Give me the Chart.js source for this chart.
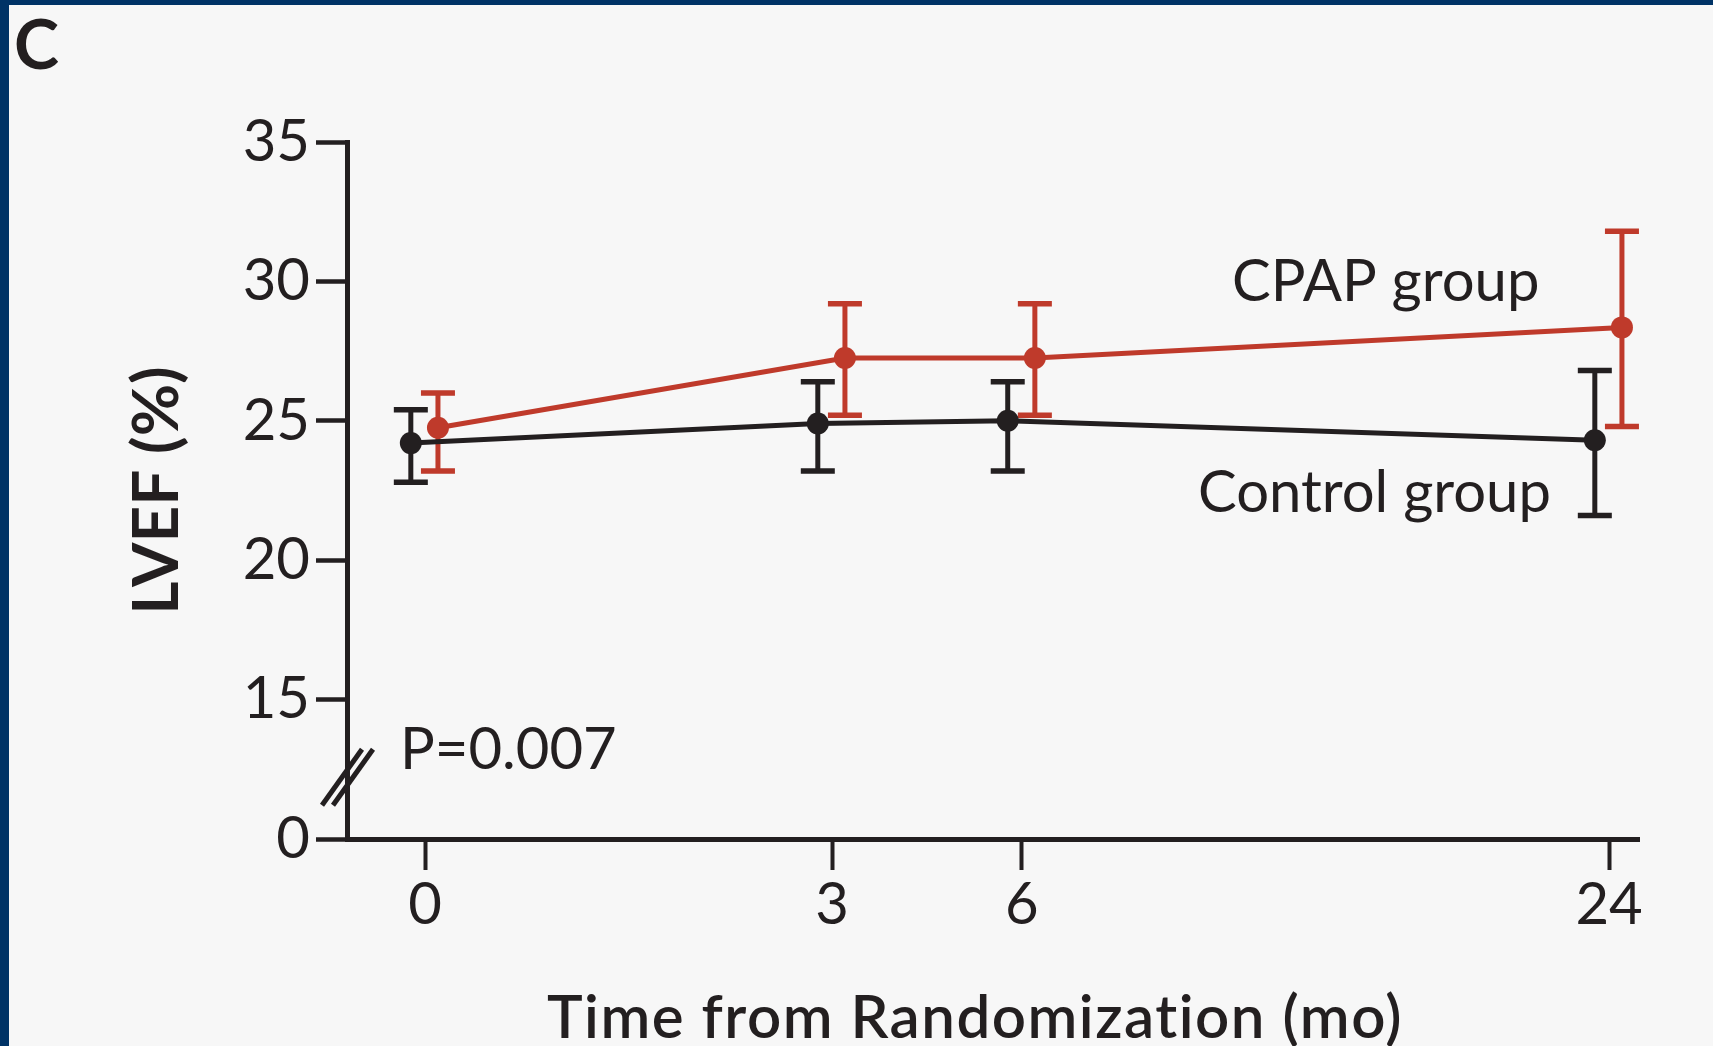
<!DOCTYPE html>
<html>
<head>
<meta charset="utf-8">
<title>LVEF after randomization</title>
<script src="https://cdn.jsdelivr.net/npm/chart.js@4.4.1/dist/chart.umd.min.js"></script>
<style>
  html, body { margin: 0; padding: 0; background: #f7f7f7; }
  #chart-container { width: 1713px; height: 1046px; }
</style>
</head>
<body>
<div id="chart-container"><canvas id="chart" width="1713" height="1046"></canvas></div>
<script>
// months after randomization (x tick labels)
const months = ['0', '3', '6', '24'];

// LVEF (%): mean and the two ends of each error bar
const controlMean = [24.2, 24.9, 25.0, 24.3];
const controlLow = [22.8, 23.2, 23.2, 21.6];
const controlHigh = [25.4, 26.4, 26.4, 26.8];

const cpapMean = [24.75, 27.25, 27.25, 28.35];
const cpapLow = [23.2, 25.2, 25.2, 24.8];
const cpapHigh = [26.0, 29.2, 29.2, 31.8];

// y axis is broken below 15: the bottom tick stands for 0
const yTickValues = [10, 15, 20, 25, 30, 35];
const yTickLabels = ['0', '15', '20', '25', '30', '35'];

// the time axis is not to scale, so each month gets a slot on a 0-100 axis
const monthSlots = [6.04, 37.54, 52.24, 97.68];
const controlShift = -1.1;
const cpapShift = 1.0;

const INK = '#231f20';
const RED = '#bf3a2b';
const FONT = 'Lato, "Open Sans", sans-serif';

Chart.defaults.font.family = FONT;
Chart.defaults.font.size = 58;
Chart.defaults.color = INK;

function points(means, shift) {
  return means.map((v, i) => ({ x: monthSlots[i] + shift, y: v }));
}

// vertical bars with caps, drawn under the lines
const errorBars = {
  id: 'errorBars',
  beforeDatasetsDraw(chart) {
    const { ctx, scales: { x, y } } = chart;
    chart.data.datasets.forEach(ds => {
      ctx.save();
      ctx.strokeStyle = ds.borderColor;
      ds.data.forEach((pt, j) => {
        const px = x.getPixelForValue(pt.x);
        const top = y.getPixelForValue(ds.errHigh[j]);
        const bot = y.getPixelForValue(ds.errLow[j]);
        ctx.lineWidth = 5;
        ctx.beginPath();
        ctx.moveTo(px, top);
        ctx.lineTo(px, bot);
        ctx.stroke();
        ctx.lineWidth = 5.5;
        ctx.beginPath();
        ctx.moveTo(px - 17, top); ctx.lineTo(px + 17, top);
        ctx.moveTo(px - 17, bot); ctx.lineTo(px + 17, bot);
        ctx.stroke();
      });
      ctx.restore();
    });
  }
};

// frame, background, axis break and the free text
const decor = {
  id: 'decor',
  beforeDraw(chart) {
    const { ctx, width, height } = chart;
    ctx.save();
    ctx.fillStyle = '#f7f7f7';
    ctx.fillRect(0, 0, width, height);
    ctx.fillStyle = '#003366';
    ctx.fillRect(0, 0, width, 5);
    ctx.fillRect(0, 0, 9, height);
    ctx.restore();
  },
  afterDraw(chart) {
    const { ctx, chartArea, scales: { y } } = chart;
    ctx.save();
    // axis break marks
    const bx = chartArea.left;
    const by = y.getPixelForValue(12.25);
    ctx.strokeStyle = INK;
    ctx.lineWidth = 5;
    [-5, 6].forEach(dx => {
      ctx.beginPath();
      ctx.moveTo(bx + dx - 20, by + 29);
      ctx.lineTo(bx + dx + 20, by - 27);
      ctx.stroke();
    });

    ctx.fillStyle = INK;
    ctx.textBaseline = 'alphabetic';
    ctx.textAlign = 'left';
    ctx.font = 'bold 68px ' + FONT;
    ctx.fillText('C', 14, 69);

    ctx.font = '58px ' + FONT;
    ctx.fillText('P=0.007', 400, 769);
    ctx.fillText('CPAP group', 1232, 301);
    ctx.fillText('Control group', 1198, 512);

    ctx.textAlign = 'center';
    ctx.font = '600 60px ' + FONT;
    ctx.letterSpacing = '1.5px';
    ctx.fillText('Time from Randomization (mo)', 975, 1038);
    ctx.restore();
  }
};

new Chart(document.getElementById('chart').getContext('2d'), {
  type: 'line',
  data: {
    datasets: [
      {
        label: 'Control group',
        data: points(controlMean, controlShift),
        errLow: controlLow,
        errHigh: controlHigh,
        borderColor: INK,
        backgroundColor: INK,
        borderWidth: 5,
        pointRadius: 11,
        pointHoverRadius: 11,
        pointBorderWidth: 0,
        tension: 0
      },
      {
        label: 'CPAP group',
        data: points(cpapMean, cpapShift),
        errLow: cpapLow,
        errHigh: cpapHigh,
        borderColor: RED,
        backgroundColor: RED,
        borderWidth: 5,
        pointRadius: 11,
        pointHoverRadius: 11,
        pointBorderWidth: 0,
        tension: 0
      }
    ]
  },
  options: {
    responsive: false,
    animation: false,
    devicePixelRatio: 1,
    layout: { padding: { left: 0, right: 74, top: 142, bottom: 0 } },
    plugins: {
      legend: { display: false },
      tooltip: { enabled: false }
    },
    scales: {
      x: {
        type: 'linear',
        min: 0,
        max: 100,
        afterBuildTicks: s => { s.ticks = monthSlots.map(v => ({ value: v })); },
        afterFit: s => { s.height = 207; s.paddingLeft = 0; s.paddingRight = 0; },
        ticks: {
          callback: (v, i) => months[i],
          autoSkip: false,
          maxRotation: 0,
          padding: 0,
          color: INK
        },
        grid: { drawOnChartArea: false, tickLength: 31, tickWidth: 4, tickColor: INK },
        border: { display: true, color: INK, width: 5 }
      },
      y: {
        type: 'linear',
        min: 10,
        max: 35,
        afterBuildTicks: s => { s.ticks = yTickValues.map(v => ({ value: v })); },
        afterFit: s => { s.width = 347; s.paddingTop = 0; s.paddingBottom = 0; },
        ticks: {
          callback: (v, i) => yTickLabels[i],
          padding: 6,
          color: INK
        },
        grid: { drawOnChartArea: false, tickLength: 31, tickWidth: 4.5, tickColor: INK },
        border: { display: true, color: INK, width: 5 },
        title: {
          display: true,
          text: 'LVEF (%)',
          color: INK,
          font: { size: 64, weight: 'bold' },
          padding: { top: 119, bottom: 0 }
        }
      }
    }
  },
  plugins: [errorBars, decor]
});
</script>
</body>
</html>
